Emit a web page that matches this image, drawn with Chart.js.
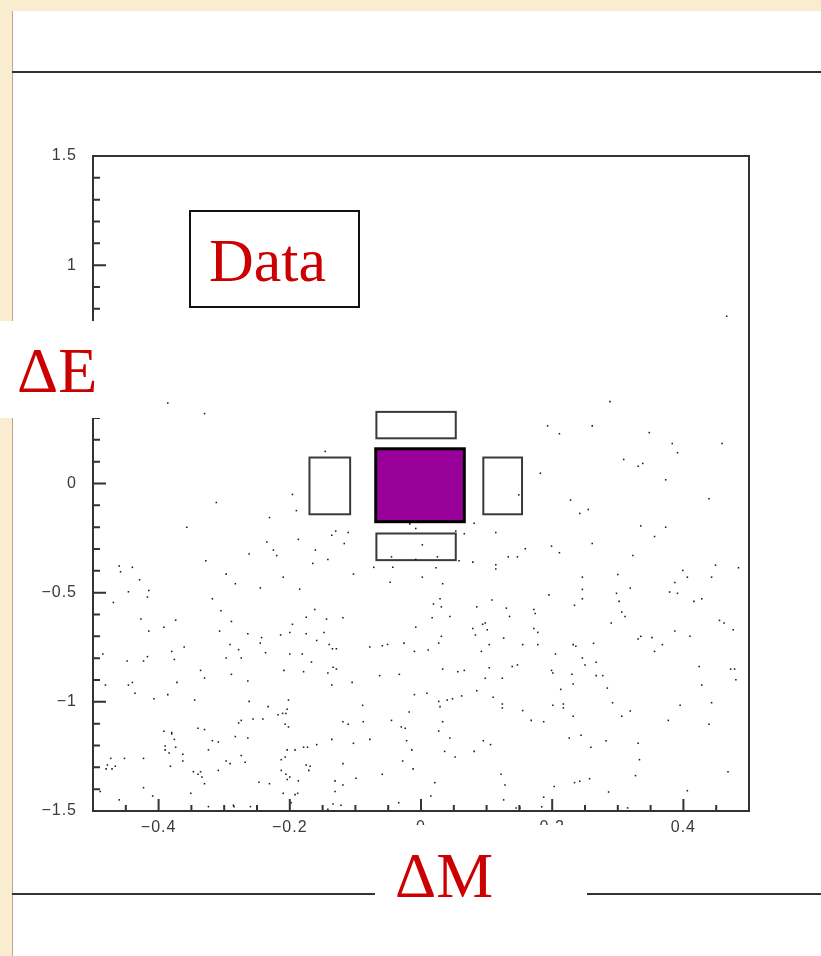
<!DOCTYPE html>
<html><head><meta charset="utf-8">
<script src="https://cdn.jsdelivr.net/npm/chart.js@4.4.1/dist/chart.umd.min.js"></script>
<style>
html,body{margin:0;padding:0;}
body{width:821px;height:956px;overflow:hidden;position:relative;background:#FAEDCF;}
#panel{position:absolute;left:12px;top:11px;right:0;bottom:0;background:#fff;border-left:1px solid #b9a98f;}
#chart{position:absolute;left:0;top:0;}
.rule{position:absolute;height:2px;background:#333;}
.wbox{position:absolute;background:#fff;}
.red{position:absolute;color:#CC0000;font-family:'Liberation Serif','Times New Roman',serif;line-height:1;white-space:nowrap;}
#databox{position:absolute;left:189px;top:210px;width:171px;height:98px;box-sizing:border-box;border:2px solid #111;background:#fff;}
</style></head>
<body>
<div id="panel"></div>
<div class="rule" style="left:12px;top:71px;width:809px"></div>
<div class="rule" style="left:12px;top:893px;width:809px"></div>
<canvas id="chart" width="821" height="956"></canvas>
<div id="databox"></div>
<div class="red" style="left:209px;top:229px;font-size:62px;">Data</div>
<div class="wbox" style="left:0;top:321px;width:118px;height:97px;"></div>
<div class="red" style="left:17px;top:339px;font-size:64px;">ΔE</div>
<div class="wbox" style="left:375px;top:825px;width:212px;height:100px;"></div>
<div class="red" style="left:395px;top:844px;font-size:64px;">ΔM</div>
<script>
// ---- axis ticks ----
const xTickValues = [-0.4, -0.2, 0, 0.2, 0.4];
const xTickLabels = ['\u22120.4', '\u22120.2', '0', '0.2', '0.4'];
const yTickValues = [-1.5, -1, -0.5, 0, 0.5, 1, 1.5];
const yTickLabels = ['\u22121.5', '\u22121', '\u22120.5', '0', '0.5', '1', '1.5'];

// ---- signal / sideband regions (ΔM, ΔE) ----
const signalBox = {x0: -0.069, x1: 0.066, y0: -0.175, y1: 0.159};
const sidebandTop = {x0: -0.068, x1: 0.053, y0: 0.207, y1: 0.328};
const sidebandBottom = {x0: -0.068, x1: 0.053, y0: -0.351, y1: -0.229};
const sidebandLeft = {x0: -0.170, x1: -0.108, y0: -0.141, y1: 0.119};
const sidebandRight = {x0: 0.095, x1: 0.154, y0: -0.141, y1: 0.119};

// ---- events: lower-left region ----
const dM_lowLeft = [-0.235,-0.187,-0.117,-0.262,-0.225,-0.220,-0.161,-0.165,-0.142,-0.328,-0.460,-0.440,-0.458,-0.297,-0.210,-0.103,-0.283,-0.245,-0.446,-0.415,-0.429,-0.417,-0.185,-0.469,-0.318,-0.305,-0.162,-0.427,-0.374,-0.289,-0.144,-0.119,-0.175,-0.392,-0.415,-0.307,-0.196,-0.200,-0.175,-0.148,-0.264,-0.214,-0.243,-0.245,-0.159,-0.140,-0.135,-0.129,-0.361,-0.291,-0.278,-0.237,-0.200,-0.181,-0.380,-0.485,-0.297,-0.274,-0.417,-0.448,-0.423,-0.376,-0.167,-0.336,-0.209,-0.179,-0.134,-0.129,-0.142,-0.330,-0.289,-0.372,-0.264,-0.105,-0.440,-0.446,-0.481,-0.136,-0.436,-0.386,-0.407,-0.345,-0.262,-0.202,-0.089,-0.233,-0.204,-0.218,-0.211,-0.206,-0.256,-0.241,-0.274,-0.278,-0.207,-0.202,-0.119,-0.111,-0.088,-0.340,-0.330,-0.392,-0.380,-0.380,-0.376,-0.283,-0.264,-0.318,-0.309,-0.136,-0.078,-0.103,-0.390,-0.374,-0.390,-0.384,-0.324,-0.204,-0.192,-0.179,-0.173,-0.159,-0.363,-0.274,-0.473,-0.452,-0.423,-0.297,-0.291,-0.268,-0.363,-0.213,-0.207,-0.478,-0.466,-0.480,-0.471,-0.382,-0.175,-0.169,-0.119,-0.213,-0.171,-0.309,-0.347,-0.336,-0.340,-0.334,-0.206,-0.200,-0.204,-0.187,-0.131,-0.099,-0.330,-0.247,-0.231,-0.119,-0.423,-0.489,-0.351,-0.210,-0.192,-0.188,-0.131,-0.409,-0.460,-0.198,-0.324,-0.286,-0.285,-0.260,-0.134,-0.122,-0.142,-0.072,-0.043,-0.045,-0.047,-0.078,-0.059,-0.051,-0.063,-0.045,-0.059,-0.034];
const dE_lowLeft = [-0.268,-0.256,-0.275,-0.323,-0.305,-0.330,-0.305,-0.366,-0.348,-0.354,-0.378,-0.384,-0.404,-0.415,-0.429,-0.415,-0.459,-0.478,-0.496,-0.490,-0.441,-0.520,-0.484,-0.545,-0.528,-0.583,-0.577,-0.621,-0.626,-0.632,-0.621,-0.615,-0.613,-0.658,-0.676,-0.676,-0.645,-0.682,-0.688,-0.682,-0.688,-0.694,-0.706,-0.731,-0.719,-0.737,-0.757,-0.757,-0.749,-0.737,-0.761,-0.775,-0.781,-0.781,-0.769,-0.781,-0.799,-0.799,-0.793,-0.813,-0.813,-0.806,-0.818,-0.856,-0.856,-0.862,-0.842,-0.850,-0.868,-0.891,-0.874,-0.911,-0.905,-0.911,-0.911,-0.923,-0.923,-0.923,-0.961,-0.967,-0.986,-0.992,-0.998,-0.992,-1.016,-1.022,-1.034,-1.059,-1.053,-1.053,-1.079,-1.079,-1.085,-1.097,-1.103,-1.115,-1.091,-1.103,-1.091,-1.121,-1.127,-1.135,-1.141,-1.147,-1.172,-1.159,-1.166,-1.178,-1.184,-1.172,-1.172,-1.190,-1.202,-1.208,-1.220,-1.234,-1.220,-1.220,-1.220,-1.208,-1.208,-1.196,-1.240,-1.246,-1.259,-1.259,-1.259,-1.271,-1.283,-1.277,-1.271,-1.265,-1.253,-1.289,-1.295,-1.307,-1.307,-1.295,-1.289,-1.295,-1.283,-1.314,-1.314,-1.314,-1.320,-1.320,-1.332,-1.344,-1.332,-1.344,-1.356,-1.362,-1.362,-1.350,-1.375,-1.368,-1.375,-1.381,-1.393,-1.411,-1.419,-1.419,-1.425,-1.419,-1.411,-1.431,-1.449,-1.462,-1.480,-1.474,-1.480,-1.480,-1.468,-1.474,-1.492,-0.384,-0.384,-0.336,-0.452,-0.749,-0.743,-0.737,-0.880,-1.085,-1.332,-1.462];

// ---- events: lower-right region ----
const dM_lowRight = [0.002,0.025,-0.008,0.023,0.002,0.033,0.058,0.079,0.114,0.114,0.133,0.147,0.159,0.199,0.211,0.261,0.323,0.449,0.484,0.399,0.406,0.443,0.387,0.379,0.391,0.416,0.428,0.246,0.246,0.246,0.234,0.300,0.319,0.298,0.302,0.306,0.311,0.290,0.195,0.108,0.085,0.130,0.135,0.172,0.174,0.172,0.178,0.029,0.019,0.031,0.044,0.017,-0.008,0.079,0.083,0.094,0.098,0.101,0.031,0.027,-0.026,-0.010,0.011,0.092,0.104,0.126,0.155,0.178,0.232,0.236,0.263,0.205,0.246,0.250,0.267,0.331,0.335,0.352,0.356,0.368,0.387,0.410,0.455,0.462,0.476,0.424,0.472,0.478,0.480,0.428,0.443,0.395,0.439,0.377,0.319,0.306,0.292,0.284,0.267,0.277,0.232,0.230,0.213,0.199,0.201,0.147,0.139,0.104,0.098,0.124,0.066,0.056,0.033,-0.033,0.062,0.085,0.110,0.124,0.124,0.155,0.168,0.187,0.201,0.217,0.217,0.232,-0.010,0.009,0.027,0.029,0.040,0.048,-0.018,-0.030,-0.024,0.033,0.027,0.044,-0.022,-0.014,0.036,0.052,0.081,0.095,0.106,0.226,0.244,0.259,0.282,0.331,0.333,0.327,-0.028,-0.012,0.021,0.122,0.128,0.203,0.234,0.242,0.257,0.286,0.406,0.468,0.015,0.126,0.187,0.184,0.145,0.151,0.315];
const dE_lowRight = [-0.281,-0.336,-0.348,-0.386,-0.429,-0.459,-0.354,-0.360,-0.372,-0.392,-0.336,-0.336,-0.299,-0.287,-0.317,-0.275,-0.330,-0.374,-0.386,-0.398,-0.429,-0.429,-0.453,-0.497,-0.503,-0.540,-0.528,-0.429,-0.485,-0.528,-0.558,-0.417,-0.479,-0.503,-0.540,-0.589,-0.609,-0.639,-0.510,-0.534,-0.565,-0.571,-0.609,-0.577,-0.595,-0.664,-0.682,-0.528,-0.552,-0.565,-0.609,-0.615,-0.658,-0.664,-0.694,-0.645,-0.639,-0.670,-0.700,-0.731,-0.731,-0.769,-0.763,-0.769,-0.738,-0.708,-0.738,-0.738,-0.738,-0.745,-0.732,-0.781,-0.799,-0.831,-0.819,-0.712,-0.700,-0.706,-0.769,-0.738,-0.676,-0.700,-0.627,-0.639,-0.670,-0.838,-0.850,-0.850,-0.899,-0.923,-1.004,-1.016,-1.103,-1.085,-1.042,-1.066,-1.004,-0.937,-0.880,-0.880,-0.918,-0.874,-0.943,-0.856,-0.868,-0.831,-0.838,-0.844,-0.892,-0.892,-0.856,-0.862,-0.850,-0.874,-0.973,-0.949,-0.979,-1.010,-1.028,-1.040,-1.085,-1.091,-1.016,-1.010,-1.028,-1.066,-0.967,-0.961,-0.998,-1.022,-0.992,-0.986,-1.047,-1.115,-1.121,-1.091,-1.134,-1.166,-1.178,-1.220,-1.227,-1.253,-1.227,-1.178,-1.196,-1.166,-1.153,-1.208,-1.178,-1.190,-1.265,-1.338,-1.271,-1.307,-1.370,-1.332,-1.381,-1.388,-1.370,-1.364,-1.352,-1.413,-1.407,-1.320,-1.431,-1.449,-1.437,-1.481,-1.486,-1.486,-1.486];

// ---- events: upper region (around the boxes) ----
const dM_upper = [0.466,-0.386,-0.330,0.288,-0.146,-0.196,-0.190,-0.312,-0.231,-0.357,-0.130,-0.136,-0.111,-0.008,-0.017,0.193,0.211,0.261,0.348,0.383,0.391,0.459,0.309,0.331,0.338,0.182,0.373,0.439,0.149,0.228,0.255,0.242,0.081,0.066,0.114,0.335,0.373,0.356,0.053];
const dE_upper = [0.766,0.369,0.320,0.375,0.147,-0.050,-0.124,-0.087,-0.156,-0.200,-0.218,-0.237,-0.224,-0.206,-0.185,0.264,0.228,0.264,0.233,0.183,0.141,0.183,0.110,0.079,0.092,0.047,0.017,-0.070,-0.052,-0.076,-0.119,-0.137,-0.182,-0.230,-0.224,-0.194,-0.200,-0.243,-0.218];

function pairs(xs, ys){ return xs.map((x,i)=>({x:x, y:ys[i]})); }
const events = [].concat(pairs(dM_lowLeft, dE_lowLeft), pairs(dM_lowRight, dE_lowRight), pairs(dM_upper, dE_upper));

Chart.defaults.font.family = "'Liberation Sans', Arial, sans-serif";

function rectPx(chart, b){
  const xs = chart.scales.x, ys = chart.scales.y;
  const l = xs.getPixelForValue(b.x0), r = xs.getPixelForValue(b.x1);
  const t = ys.getPixelForValue(b.y1), bt = ys.getPixelForValue(b.y0);
  return [l, t, r - l, bt - t];
}

const regionsPlugin = {
  id: 'regions',
  beforeUpdate(chart){ chart.ctx.letterSpacing = '1px'; },
  beforeDraw(chart){ chart.ctx.letterSpacing = '1px'; },
  beforeDatasetsDraw(chart){
    const ctx = chart.ctx;
    ctx.save();
    [sidebandTop, sidebandBottom, sidebandLeft, sidebandRight].forEach(b => {
      const r = rectPx(chart, b);
      ctx.lineWidth = 2; ctx.strokeStyle = '#3a3a3a';
      ctx.strokeRect(r[0], r[1], r[2], r[3]);
    });
    const s = rectPx(chart, signalBox);
    ctx.fillStyle = '#990099';
    ctx.fillRect(s[0], s[1], s[2], s[3]);
    ctx.lineWidth = 3; ctx.strokeStyle = '#000';
    ctx.strokeRect(s[0], s[1], s[2], s[3]);
    ctx.restore();
  },
  afterDraw(chart){
    const ctx = chart.ctx, a = chart.chartArea;
    const xs = chart.scales.x, ys = chart.scales.y;
    ctx.save();
    ctx.strokeStyle = '#333'; ctx.lineWidth = 2;
    ctx.strokeRect(a.left, a.top, a.right - a.left, a.bottom - a.top);
    ctx.beginPath();
    for (let i = -14; i <= 14; i++) {
      const py = ys.getPixelForValue(i / 10);
      const len = (i % 5 === 0) ? 13 : 7;
      ctx.moveTo(a.left, py); ctx.lineTo(a.left + len, py);
    }
    for (let i = -9; i <= 9; i++) {
      const px = xs.getPixelForValue(i / 20);
      const len = (i % 4 === 0) ? 12 : 6;
      ctx.moveTo(px, a.bottom); ctx.lineTo(px, a.bottom - len);
    }
    ctx.stroke();
    ctx.restore();
  }
};

new Chart(document.getElementById('chart'), {
  type: 'scatter',
  data: { datasets: [{
    data: events,
    pointStyle: 'rect',
    pointRadius: 1.1,
    pointHoverRadius: 1.1,
    backgroundColor: '#1a1a1a',
    borderWidth: 0
  }]},
  options: {
    responsive: false,
    animation: false,
    devicePixelRatio: 1,
    events: [],
    layout: { padding: { left: 0, top: 156, right: 72, bottom: 0 } },
    plugins: { legend: { display: false }, tooltip: { enabled: false } },
    scales: {
      x: {
        type: 'linear', min: -0.5, max: 0.5,
        grid: { display: false, drawTicks: false },
        border: { display: false },
        afterBuildTicks: s => { s.ticks = xTickValues.map(v => ({ value: v })); },
        afterFit: s => { s.height = 145; },
        ticks: { padding: 7, color: '#3a3a3a', font: { size: 16 }, maxRotation: 0, autoSkip: false,
                 callback: (v, i) => xTickLabels[i] }
      },
      y: {
        type: 'linear', min: -1.5, max: 1.5,
        grid: { display: false, drawTicks: false },
        border: { display: false },
        afterBuildTicks: s => { s.ticks = yTickValues.map(v => ({ value: v })); },
        afterFit: s => { s.width = 93; },
        ticks: { padding: 16, color: '#3a3a3a', font: { size: 16 }, autoSkip: false,
                 callback: (v, i) => yTickLabels[i] }
      }
    }
  },
  plugins: [regionsPlugin]
});
</script>
</body></html>
